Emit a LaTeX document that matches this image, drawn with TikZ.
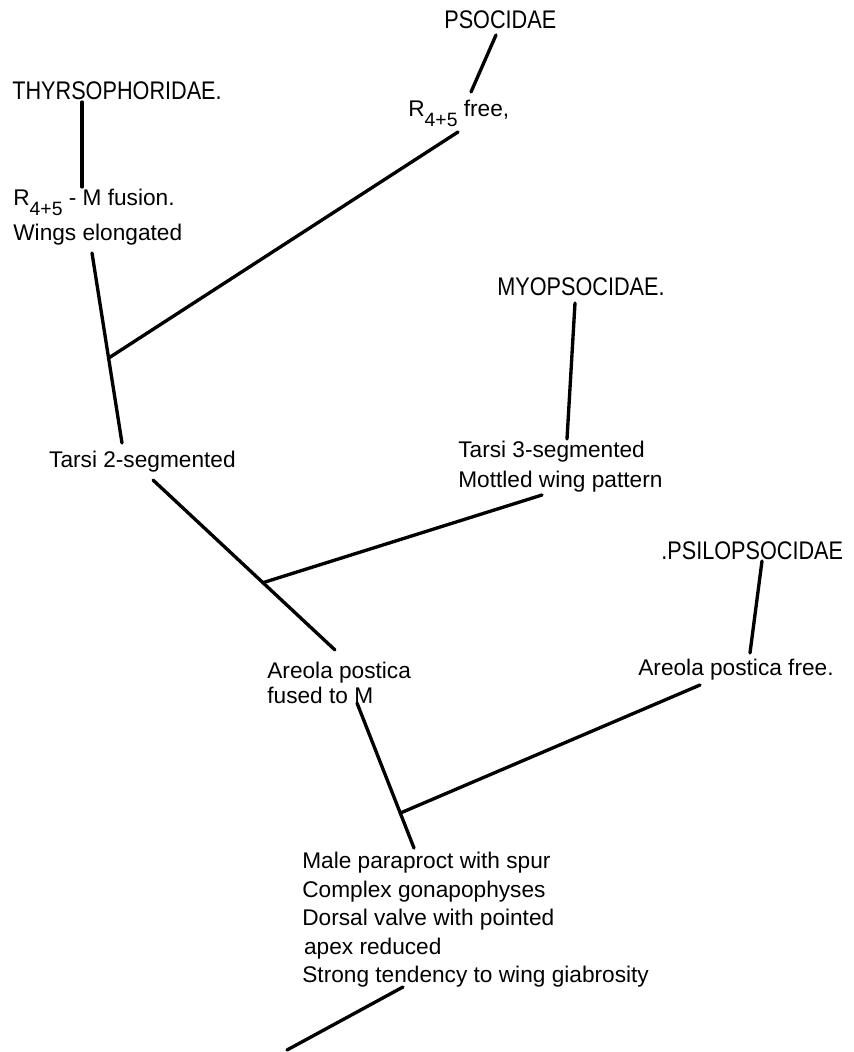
\documentclass[tikz,border=0pt]{standalone}
\usepackage{fontspec}
\setmainfont{Liberation Sans}
\newfontfamily\taxonfont[FakeStretch=0.85]{Liberation Sans}
\usepackage{tikz}
\usetikzlibrary{calc}
\tikzset{
  taxonname/.style={
    inner sep=0pt, anchor=north west,
    font=\taxonfont\fontsize{14.5}{16}\selectfont
  },
  charstate/.style={
    inner sep=0pt, anchor=north west, align=left,
    font=\fontsize{12.9}{16}\selectfont
  },
  branch/.style={
    line width=1.9pt, line cap=round
  },
}
\newcommand{\Rfourfive}{R\raisebox{-5.5pt}{\fontsize{11}{12}\selectfont 4+5}}

\begin{document}
\begin{tikzpicture}[x=0.02cm, y=-0.02cm]
  \useasboundingbox (0,0) rectangle (853,1052);

  % === Families ===
  \node[taxonname] (psoc) at (444, 10) {PSOCIDAE};
  \node[taxonname] (thyr) at (12, 81) {THYRSOPHORIDAE.};
  \node[taxonname] (myop) at (497, 277) {MYOPSOCIDAE.};
  \node[taxonname] (psil) at (661, 541) {.PSILOPSOCIDAE};

  % === Character states ===
  \node[charstate] (r45free) at (408, 100) {\Rfourfive{} free,};
  \node[charstate] (r45fusion) at (13, 189) {\Rfourfive{} - M fusion.\\[4pt]Wings elongated};
  \node[charstate, anchor=north east] (tarsi2) at (236, 451) {Tarsi 2-segmented};
  \node[charstate, font=\fontsize{12.9}{17}\selectfont] (tarsi3) at (458, 441)
    {Tarsi 3-segmented\\Mottled wing pattern};
  \node[charstate, font=\fontsize{12.9}{14.2}\selectfont] (areolafused) at (267, 662)
    {Areola postica\\fused to M};
  \node[charstate] (areolafree) at (638, 659) {Areola postica free.};
  \node[charstate, font=\fontsize{12.9}{16.2}\selectfont] (common) at (302, 852)
    {Male paraproct with spur\\Complex gonapophyses\\Dorsal valve with pointed\\
    \hspace*{1pt}apex reduced\\Strong tendency to wing giabrosity};

  % === Branch ends and forks ===
  \coordinate (psoc-top) at (496, 35);
  \coordinate (psoc-bot) at (471, 92);
  \coordinate (free-bot) at (458, 132);
  \coordinate (thyr-top) at (82, 102);
  \coordinate (thyr-bot) at (82, 187);
  \coordinate (wings-bot) at (92, 253);
  \coordinate (tarsi2-top) at (122, 443);
  \coordinate (fork1) at ($(wings-bot)!0.553!(tarsi2-top)$);
  \coordinate (tarsi2-bot) at (153, 480);
  \coordinate (areola-top) at (335, 650);
  \coordinate (fork2) at ($(tarsi2-bot)!0.604!(areola-top)$);
  \coordinate (mottled-bot) at (542, 495);
  \coordinate (myop-top) at (575, 303);
  \coordinate (myop-bot) at (567, 439);
  \coordinate (psil-top) at (762, 561);
  \coordinate (psil-bot) at (750, 653);
  \coordinate (fused-bot) at (357, 703);
  \coordinate (common-top) at (414, 848);
  \coordinate (fork3) at ($(fused-bot)!0.759!(common-top)$);
  \coordinate (free2-bot) at (700, 685);
  \coordinate (common-bot) at (403, 987);
  \coordinate (root) at (287, 1050);

  % === Branches ===
  \draw[branch] (psoc-top) -- (psoc-bot);
  \draw[branch] (thyr-top) -- (thyr-bot);
  \draw[branch] (wings-bot) -- (tarsi2-top);
  \draw[branch] (fork1) -- (free-bot);
  \draw[branch] (tarsi2-bot) -- (areola-top);
  \draw[branch] (fork2) -- (mottled-bot);
  \draw[branch] (myop-top) -- (myop-bot);
  \draw[branch] (psil-top) -- (psil-bot);
  \draw[branch] (fused-bot) -- (common-top);
  \draw[branch] (fork3) -- (free2-bot);
  \draw[branch] (common-bot) -- (root);

\end{tikzpicture}
\end{document}
